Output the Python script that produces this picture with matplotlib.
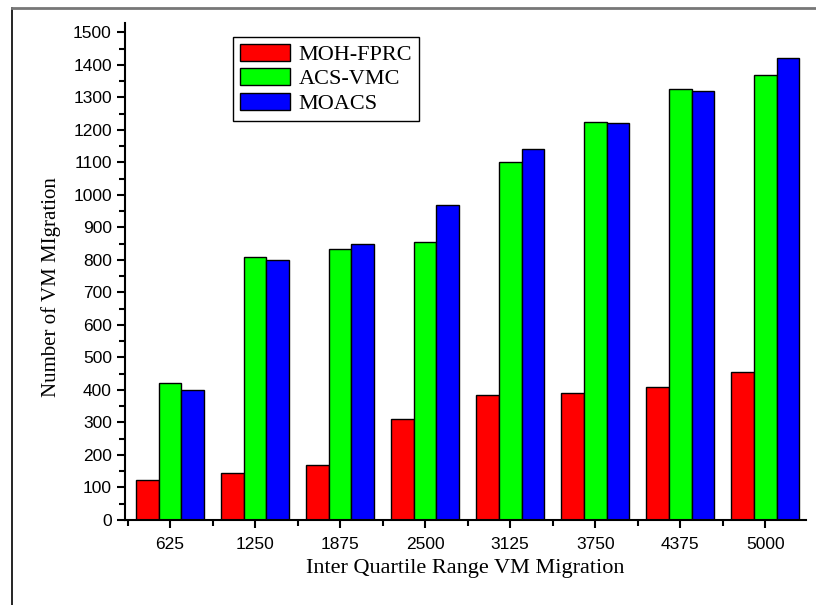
import numpy as np
import matplotlib
matplotlib.use("Agg")
import matplotlib.pyplot as plt
from matplotlib.lines import Line2D
from matplotlib.ticker import MultipleLocator, FixedLocator

# data
categories = ["625", "1250", "1875", "2500", "3125", "3750", "4375", "5000"]
moh_fprc = [122, 145, 170, 310, 385, 390, 410, 455]
acs_vmc = [420, 810, 835, 855, 1100, 1225, 1325, 1370]
moacs = [400, 800, 850, 970, 1140, 1220, 1320, 1420]

series = [("MOH-FPRC", moh_fprc, "#ff0000"),
          ("ACS-VMC", acs_vmc, "#00ff00"),
          ("MOACS", moacs, "#0000ff")]

fig = plt.figure(figsize=(8.16, 6.05), dpi=100)
ax = fig.add_axes([0.1532, 0.1405, 0.8346, 0.822])

x = np.arange(len(categories))
w = 0.8 / 3
for i, (name, vals, col) in enumerate(series):
    ax.bar(x + (i - 1) * w, vals, width=w, color=col, edgecolor="black",
           linewidth=1.0, label=name)

ax.set_xlim(-0.53, 7.48)
ax.set_ylim(0, 1530)
ax.set_xticks(x)
ax.set_xticklabels(categories)
ax.xaxis.set_minor_locator(FixedLocator(np.arange(-0.5, 7.6, 1.0)))
ax.set_yticks(np.arange(0, 1501, 100))
ax.yaxis.set_minor_locator(MultipleLocator(50))

for s in ["top", "right"]:
    ax.spines[s].set_visible(False)
for s in ["left", "bottom"]:
    ax.spines[s].set_linewidth(1.5)

ax.tick_params(which="major", direction="out", length=6, width=1.5,
               labelsize=12.5, labelfontfamily="Liberation Sans")
ax.tick_params(which="minor", direction="out", length=4, width=1.5)
ax.tick_params(axis="x", which="major", pad=6)

ax.set_xlabel("Inter Quartile Range VM Migration", family="Liberation Serif",
              fontsize=16, labelpad=5)
ax.set_ylabel("Number of VM MIgration", family="Liberation Serif", fontsize=15)
ax.yaxis.set_label_coords(-0.094, 0.469)

leg = ax.legend(loc="upper left", bbox_to_anchor=(0.2855, 0.9388),
                bbox_transform=fig.transFigure, prop={"family": "Liberation Serif", "size": 16},
                fancybox=False, framealpha=1, edgecolor="black",
                handlelength=2.25, handleheight=0.8, labelspacing=0.15,
                borderpad=0.3, handletextpad=0.4, borderaxespad=0)
leg.get_frame().set_linewidth(1.0)

# outer frame of the picture
fig.add_artist(Line2D([12 / 816, 12 / 816], [0, 1 - 8 / 605], color="black",
                      linewidth=1.2, transform=fig.transFigure))
fig.add_artist(Line2D([12 / 816, 1], [1 - 8 / 605, 1 - 8 / 605], color="#777777",
                      linewidth=2, transform=fig.transFigure))

fig.savefig("out.png", dpi=100)
